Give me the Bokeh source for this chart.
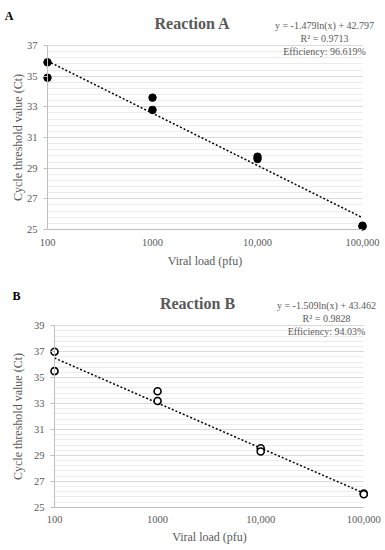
import numpy as np
from bokeh.plotting import figure
from bokeh.models import Label, FixedTicker, Grid
from bokeh.layouts import column
from bokeh.embed import file_html
from bokeh.resources import INLINE

# ---- data ----
x_ticks = [100, 1000, 10000, 100000]
x_tick_labels = ["100", "1000", "10,000", "100,000"]

a_load = [100, 100, 1000, 1000, 10000, 10000, 100000, 100000]
a_ct = [35.9, 34.9, 33.6, 32.8, 29.75, 29.6, 25.25, 25.2]
a_slope, a_intercept = -1.479, 42.797
a_eq = ["y = -1.479ln(x) + 42.797", "R² = 0.9713", "Efficiency: 96.619%"]
a_yticks = [25, 27, 29, 31, 33, 35, 37]

b_load = [100, 100, 1000, 1000, 10000, 10000, 100000, 100000]
b_ct = [37.0, 35.5, 33.95, 33.2, 29.55, 29.3, 26.05, 26.0]
b_slope, b_intercept = -1.509, 43.462
b_eq = ["y = -1.509ln(x) + 43.462", "R² = 0.9828", "Efficiency: 94.03%"]
b_yticks = [25, 27, 29, 31, 33, 35, 37, 39]

FONT = "Liberation Serif"
GREY = "#595959"
W = 385
HAS_CROSS = "cross_bounds" in Grid.properties()


def make_panel(letter, title, loads, cts, slope, intercept, eq, yticks,
               height, frame_px, filled, pos):
    # frame_px: pixel box (left, right, top, bottom) of the plot area inside the figure
    fl, fr, ft, fb = frame_px
    xmin, xmax = np.log10(x_ticks[0]), np.log10(x_ticks[-1])
    ppd = (fr - fl) / (xmax - xmin)
    x0 = 10 ** (xmin - fl / ppd)
    x1 = 10 ** (xmax + (W - fr) / ppd)
    ymin, ymax = yticks[0], yticks[-1]
    ppu = (fb - ft) / (ymax - ymin)
    y0 = ymin - (height - fb) / ppu
    y1 = ymax + ft / ppu

    p = figure(width=W, height=height, x_axis_type="log",
               x_range=(x0, x1), y_range=(y0, y1),
               output_backend="svg", toolbar_location=None,
               min_border_left=0, min_border_right=0,
               min_border_top=0, min_border_bottom=0)
    p.outline_line_color = None
    p.background_fill_color = "white"
    p.border_fill_color = "white"

    minor = [float(v) for v in np.arange(ymin, ymax + 1e-9, 0.4)]
    p.yaxis.ticker = FixedTicker(ticks=yticks, minor_ticks=minor)
    p.xaxis.ticker = FixedTicker(ticks=x_ticks, minor_ticks=[])
    p.xaxis.major_label_overrides = {t: l for t, l in zip(x_ticks, x_tick_labels)}
    p.yaxis.fixed_location = x_ticks[0]
    p.xaxis.fixed_location = ymin
    p.yaxis.bounds = (ymin, ymax)
    p.xaxis.bounds = (x_ticks[0], x_ticks[-1])

    p.xgrid.grid_line_color = None
    if HAS_CROSS:
        p.ygrid.cross_bounds = (x_ticks[0], x_ticks[-1])
        p.ygrid.bounds = (ymin, ymax)
        p.ygrid.grid_line_color = "#d9d9d9"
        p.ygrid.minor_grid_line_color = "#ececec"
    else:
        p.ygrid.grid_line_color = None
        p.segment(x0=[x_ticks[0]] * len(minor), x1=[x_ticks[-1]] * len(minor),
                  y0=minor, y1=minor, line_color="#ececec", line_width=1)
        p.segment(x0=[x_ticks[0]] * len(yticks), x1=[x_ticks[-1]] * len(yticks),
                  y0=yticks, y1=yticks, line_color="#d9d9d9", line_width=1)

    for ax in (p.xaxis, p.yaxis):
        ax.axis_line_color = "#bfbfbf"
        ax.major_label_text_font = FONT
        ax.major_label_text_font_size = "10.5px"
        ax.major_label_text_color = GREY
        ax.minor_tick_line_color = None
        ax.major_tick_line_color = "#bfbfbf"
    p.xaxis.major_tick_out = 0
    p.xaxis.major_tick_in = 0
    p.xaxis.major_label_standoff = 9
    p.yaxis.major_tick_out = 4
    p.yaxis.major_tick_in = 0
    p.yaxis.major_label_standoff = 6

    # trendline from the displayed fit coefficients
    tx = np.array([x_ticks[0], x_ticks[-1]], dtype=float)
    ty = slope * np.log(tx) + intercept
    p.line(tx, ty, line_color="black", line_width=1.5, line_dash="2 2")

    if filled:
        p.scatter(loads, cts, size=7.5, fill_color="black", line_color="black")
    else:
        p.scatter(loads, cts, size=7, fill_color="white", line_color="black",
                  line_width=1.6)

    def lab(text, px, py, size, bold=False, color=GREY, angle=0.0, align="center"):
        # px, py: pixel position from figure top-left
        p.add_layout(Label(x=px, y=height - py, x_units="screen", y_units="screen",
                           text=text, text_font=FONT, text_font_size=size,
                           text_font_style="bold" if bold else "normal",
                           text_color=color, text_align=align,
                           text_baseline="middle", angle=angle))

    lab(title, pos["title"][0], pos["title"][1], "16px", bold=True)
    for i, line in enumerate(eq):
        lab(line, pos["eq"][0], pos["eq"][1] + 13 * i, "10px")
    lab(letter, pos["letter"][0], pos["letter"][1], "12px", bold=True, color="black")
    lab("Cycle threshold value (Ct)", pos["ylab"][0], pos["ylab"][1], "12px",
        angle=np.pi / 2)
    lab("Viral load (pfu)", pos["xlab"][0], pos["xlab"][1], "12px")
    return p


HA = 275
HB = 275
pa = make_panel("A", "Reaction A", a_load, a_ct, a_slope, a_intercept, a_eq, a_yticks,
                height=HA, frame_px=(47, 362, 45, 229), filled=True,
                pos={"title": (192, 23), "eq": (324, 25), "letter": (8.5, 15),
                     "ylab": (17, 137), "xlab": (204.5, 260)})
pb = make_panel("B", "Reaction B", b_load, b_ct, b_slope, b_intercept, b_eq, b_yticks,
                height=HB, frame_px=(54, 363.3, 50.3, 231.7), filled=False,
                pos={"title": (197, 27.7), "eq": (326, 30), "letter": (16, 20),
                     "ylab": (17, 141), "xlab": (209, 261.7)})

layout = column(pa, pb, spacing=0)
open("out.html", "w").write(file_html(layout, INLINE))
